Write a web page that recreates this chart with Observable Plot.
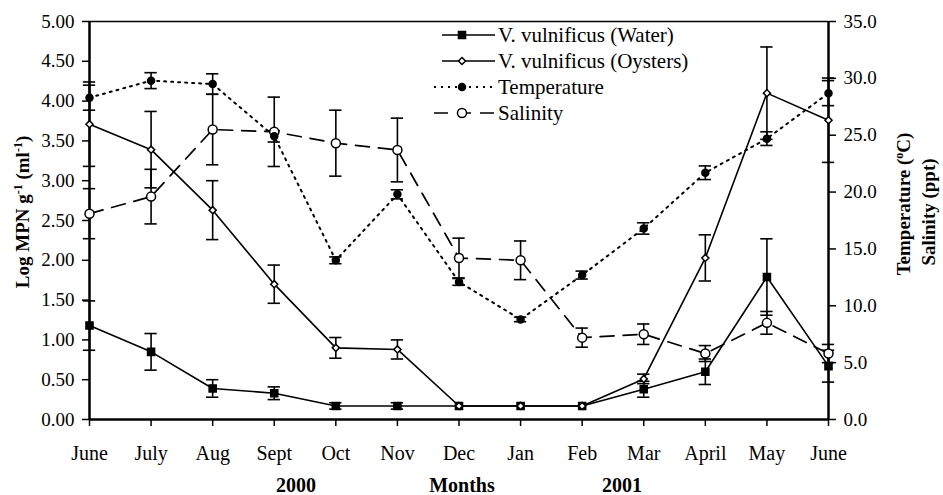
<!DOCTYPE html>
<html><head><meta charset="utf-8">
<script src="https://cdn.jsdelivr.net/npm/d3@7"></script>
<script src="https://cdn.jsdelivr.net/npm/@observablehq/plot@0.6"></script>
<style>body{margin:0;background:#fff}</style>
</head><body><div id="chart"></div>
<script>
// ---- data ----
const months = ["June","July","Aug","Sept","Oct","Nov","Dec","Jan","Feb","Mar","April","May","June"];
const leftTicks = [0,0.5,1,1.5,2,2.5,3,3.5,4,4.5,5];
const rightTicks = [0,5,10,15,20,25,30,35];
// Log MPN g-1 (ml-1)
const water      = [1.18,0.85,0.39,0.33,0.17,0.17,0.17,0.17,0.17,0.38,0.60,1.79,0.67];
const waterErr   = [0.31,0.23,0.11,0.08,0.04,0.04,0,0,0,0.10,0.16,0.48,0.20];
const oysters    = [3.71,3.39,2.63,1.70,0.90,0.88,0.17,0.17,0.17,0.51,2.03,4.10,3.76];
const oystersErr = [0.53,0.48,0.37,0.24,0.13,0.12,0,0,0,0.06,0.29,0.58,0.53];
// Temperature (°C)
const temperature = [28.3,29.8,29.5,24.9,14.0,19.8,12.1,8.8,12.7,16.8,21.7,24.7,28.7];
const temperatureErr = [1.1,0.7,0.9,0.5,0.3,0.4,0.3,0.2,0.35,0.5,0.6,0.6,1.1];
// Salinity (ppt)
const salinity    = [18.1,19.6,25.5,25.3,24.3,23.7,14.2,14.0,7.2,7.5,5.8,8.5,5.8];
const salinityErr = [2.2,2.4,3.1,3.05,2.9,2.8,1.75,1.7,0.84,0.9,0.7,1.0,0.8];

const LEFT_MAX = 5, RIGHT_MAX = 35, k = LEFT_MAX / RIGHT_MAX;

function series(vals, errs, f) {
  return vals.map((v, i) => ({i, v: v * f, e: errs[i] * f}));
}
const sWater = series(water, waterErr, 1);
const sOys = series(oysters, oystersErr, 1);
const sTemp = series(temperature, temperatureErr, k);
const sSal = series(salinity, salinityErr, k);

function errMarks(d) {
  const f = d.filter(r => r.e > 0);
  const o = {stroke: "black", strokeWidth: 1.6};
  return [
    Plot.ruleX(f, {x: "i", y1: r => r.v - r.e, y2: r => r.v + r.e, ...o}),
    Plot.ruleY(f, {x1: r => r.i - 0.1, x2: r => r.i + 0.1, y: r => r.v + r.e, ...o}),
    Plot.ruleY(f, {x1: r => r.i - 0.1, x2: r => r.i + 0.1, y: r => r.v - r.e, ...o})
  ];
}

const W = 943, H = 495;
const chart = Plot.plot({
  width: W, height: H,
  marginLeft: 89, marginRight: 115, marginTop: 21, marginBottom: 76,
  style: {fontFamily: "'Liberation Serif', serif", background: "white", color: "black"},
  x: {domain: [0, 12]},
  y: {domain: [0, LEFT_MAX]},
  marks: [
    Plot.axisY({ticks: leftTicks, tickFormat: d => d.toFixed(2), tickSize: 7, tickPadding: 8, fontSize: 19, label: null, strokeWidth: 1.5}),
    Plot.axisY({anchor: "right", ticks: rightTicks.map(t => t * k), tickFormat: d => (d / k).toFixed(1), tickSize: 7, tickPadding: 8, fontSize: 19, label: null, strokeWidth: 1.5}),
    Plot.axisX({ticks: d3.range(months.length), tickFormat: i => months[i], tickSize: 7, tickPadding: 19, fontSize: 20, label: null, strokeWidth: 1.5}),
    Plot.ruleY([LEFT_MAX], {stroke: "black", strokeWidth: 1.5}),
    // lines
    Plot.line(sWater, {x: "i", y: "v", stroke: "black", strokeWidth: 1.6}),
    Plot.line(sOys, {x: "i", y: "v", stroke: "black", strokeWidth: 1.6}),
    Plot.line(sTemp, {x: "i", y: "v", stroke: "black", strokeWidth: 2, strokeDasharray: "2,5"}),
    Plot.line(sSal, {x: "i", y: "v", stroke: "black", strokeWidth: 1.7, strokeDasharray: "14,9"}),
    // error bars
    ...errMarks(sWater), ...errMarks(sOys), ...errMarks(sTemp), ...errMarks(sSal),
    // axis lines
    Plot.ruleY([0], {stroke: "black", strokeWidth: 2.5}),
    Plot.ruleX([0, 12], {stroke: "black", strokeWidth: 2.5}),
    // markers
    Plot.dot(sSal, {x: "i", y: "v", r: 4.5, symbol: "circle", fill: "white", stroke: "black", strokeWidth: 1.5}),
    Plot.dot(sTemp, {x: "i", y: "v", r: 3.5, symbol: "circle", fill: "black", stroke: "black"}),
    Plot.dot(sWater, {x: "i", y: "v", r: 4, symbol: "square", fill: "black", stroke: "black"}),
    Plot.dot(sOys, {x: "i", y: "v", r: 3.2, symbol: "diamond2", fill: "white", stroke: "black", strokeWidth: 1.5})
  ]
});
document.getElementById("chart").appendChild(chart);

// ---- titles & legend ----
const svg = d3.select(chart);
const font = "'Liberation Serif', serif";
function vtitle(x, y, parts) {
  const t = svg.append("text").attr("transform", `translate(${x},${y}) rotate(-90)`)
    .attr("text-anchor", "middle").attr("font-family", font).attr("font-weight", "bold")
    .attr("font-size", 19).attr("fill", "black");
  parts.forEach(p => {
    const s = t.append("tspan").text(p[0]);
    if (p[1]) s.attr("baseline-shift", "super").attr("font-size", 12);
  });
}
vtitle(29, 212, [["Log MPN g"], ["-1", 1], [" (ml"], ["-1", 1], [")"]]);
vtitle(910, 204, [["Temperature ("], ["o", 1], ["C)"]]);
vtitle(935, 212, [["Salinity (ppt)"]]);
[["2000", 296], ["Months", 462], ["2001", 622]].forEach(([s, x]) =>
  svg.append("text").attr("x", x).attr("y", 492).attr("text-anchor", "middle")
    .attr("font-family", font).attr("font-weight", "bold").attr("font-size", 20).attr("fill", "black").text(s));

const legend = [
  {label: "V. vulnificus (Water)", dash: null, sym: "square", fill: "black", r: 4},
  {label: "V. vulnificus (Oysters)", dash: null, sym: "diamond2", fill: "white", r: 3.2},
  {label: "Temperature", dash: "2,5", sym: "circle", fill: "black", r: 3.5},
  {label: "Salinity", dash: "14,9", sym: "circle", fill: "white", r: 4.5}
];
const symMap = {square: d3.symbolSquare, circle: d3.symbolCircle, diamond2: d3.symbolDiamond2};
legend.forEach((l, j) => {
  const y = 35 + j * 26;
  const g = svg.append("g");
  g.append("line").attr("x1", l.dash ? 434 : 442).attr("x2", 495).attr("y1", y).attr("y2", y)
    .attr("stroke", "black").attr("stroke-width", l.dash === "2,5" ? 2 : 1.5)
    .attr("stroke-dasharray", l.dash);
  g.append("path").attr("transform", `translate(462,${y})`)
    .attr("d", d3.symbol(symMap[l.sym], Math.PI * l.r * l.r)())
    .attr("fill", l.fill).attr("stroke", "black").attr("stroke-width", 1.5);
  g.append("text").attr("x", 498).attr("y", y).attr("dy", "0.35em").attr("text-anchor", "start")
    .attr("font-family", font).attr("font-size", 21).attr("fill", "black").text(l.label);
});
</script></body></html>
